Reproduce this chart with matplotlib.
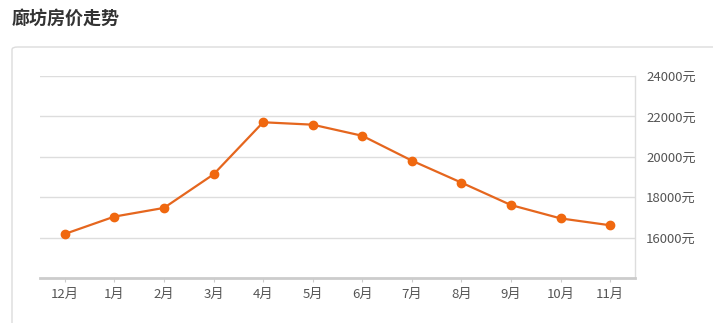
import numpy as np
import matplotlib.pyplot as plt
from matplotlib.patches import FancyBboxPatch

plt.rcParams['font.family'] = ['Noto Sans CJK SC', 'DejaVu Sans']

months = ['12月', '1月', '2月', '3月', '4月', '5月', '6月', '7月', '8月', '9月', '10月', '11月']
prices = [16180, 17040, 17470, 19130, 21710, 21590, 21040, 19810, 18720, 17610, 16950, 16610]
ytick_values = [16000, 18000, 20000, 22000, 24000]
ytick_labels = ['%d元' % v for v in ytick_values]

W, H = 713, 323
fig = plt.figure(figsize=(W / 100, H / 100), dpi=100)
fig.patch.set_facecolor('white')

# panel frame behind the chart
frame = FancyBboxPatch((12 / W, -0.2), 1.2, (H - 47) / H + 0.2,
                       boxstyle='round,pad=0,rounding_size=0.008',
                       transform=fig.transFigure, facecolor='white',
                       edgecolor='#dcdcdc', linewidth=1.0, zorder=-10)
fig.patches.append(frame)

fig.text(12 / W, 1 - 18 / H, '廊坊房价走势', fontsize=13, fontweight='bold',
         color='#333333', va='center', ha='left')

ax = fig.add_axes([40 / W, (H - 278) / H, (635 - 40) / W, (278 - 76) / H])
ax.set_facecolor('none')
x = np.arange(len(months))
ax.plot(x, prices, color='#e5661e', linewidth=1.6, marker='o', markersize=6,
        markerfacecolor='#f0680f', markeredgecolor='#f0680f', zorder=3)

ax.set_xlim(-0.5, len(months) - 0.5)
ax.set_ylim(14000, 24000)
ax.set_xticks(x)
ax.set_xticklabels(months)
ax.set_yticks(ytick_values)
ax.set_yticklabels(ytick_labels)
ax.yaxis.tick_right()
ax.tick_params(axis='y', length=0, pad=8, labelsize=9.5, labelcolor='#555555')
ax.tick_params(axis='x', length=3, color='#cccccc', pad=4, labelsize=9.5, labelcolor='#555555')
ax.grid(axis='y', color='#dddddd', linewidth=1)
ax.set_axisbelow(True)

for side in ['top', 'left']:
    ax.spines[side].set_visible(False)
ax.spines['right'].set_color('#dddddd')
ax.spines['right'].set_linewidth(1)
ax.spines['bottom'].set_color('#cccccc')
ax.spines['bottom'].set_linewidth(2)

fig.savefig('out.png', dpi=100, facecolor='white')
